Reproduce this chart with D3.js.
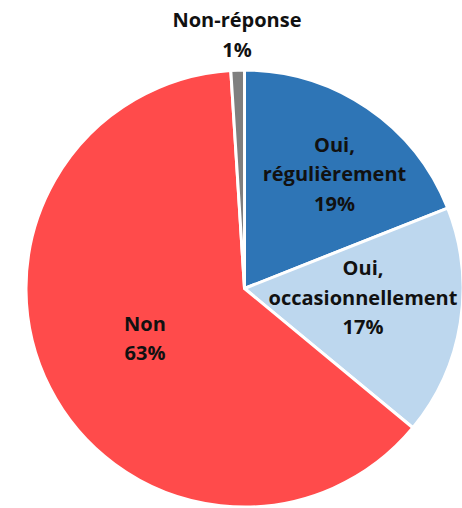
<!DOCTYPE html>
<html lang="fr">
<head>
<meta charset="utf-8">
<script src="https://cdn.jsdelivr.net/npm/d3@7"></script>
<style>
  html, body { margin: 0; padding: 0; background: #fff; }
  svg text { font-family: "Open Sans", "Noto Sans", sans-serif; font-weight: 700; fill: #111; }
</style>
</head>
<body>
<svg id="chart" width="462" height="508"></svg>
<script>
// Réponses, dans l'ordre horaire à partir de midi
const categories = ["Oui, régulièrement", "Oui, occasionnellement", "Non", "Non-réponse"];
const shares = [19, 17, 63, 1];
const labelLines = [["Oui,", "régulièrement"], ["Oui,", "occasionnellement"], ["Non"], ["Non-réponse"]];
const valueLabels = ["19%", "17%", "63%", "1%"];

const colors = ["#2E75B6", "#BDD7EE", "#FF4B4B", "#7F7F7F"];

// Placement des étiquettes : fraction du rayon et décalage angulaire (degrés)
const labelPlacement = [
  { r: 0.666, da: 4.0 },
  { r: 0.544, da: -4.7 },
  { r: 0.509, da: 0.5 },
  { r: 1.162, da: 0.1 }
];

const svg = d3.select("#chart");
const cx = 244.5, cy = 288.5, R = 218.5;
const g = svg.append("g").attr("transform", `translate(${cx},${cy})`);

const data = categories.map((c, i) => ({ name: c, value: shares[i], i }));
const pie = d3.pie().value(d => d.value).sort(null).startAngle(0).endAngle(2 * Math.PI);
const arcs = pie(data);
const arc = d3.arc().innerRadius(0).outerRadius(R);

g.selectAll("path.slice")
  .data(arcs)
  .join("path")
  .attr("class", "slice")
  .attr("d", arc)
  .attr("fill", d => colors[d.data.i])
  .attr("stroke", "#fff")
  .attr("stroke-width", 3)
  .attr("stroke-linejoin", "round");

const fontSize = 20;
const lineH = 29.5;
const capH = fontSize * 0.714;

arcs.forEach(a => {
  const p = labelPlacement[a.data.i];
  const mid = (a.startAngle + a.endAngle) / 2 + p.da * Math.PI / 180;
  const x = Math.sin(mid) * R * p.r;
  const y = -Math.cos(mid) * R * p.r;
  const lines = labelLines[a.data.i].concat([valueLabels[a.data.i]]);
  const blockH = (lines.length - 1) * lineH + capH;
  const firstBaseline = y - blockH / 2 + capH;
  const t = g.append("text")
    .attr("text-anchor", "middle")
    .attr("font-size", fontSize);
  lines.forEach((ln, k) => {
    t.append("tspan")
      .attr("x", x)
      .attr("y", firstBaseline + k * lineH)
      .text(ln);
  });
});
</script>
</body>
</html>
